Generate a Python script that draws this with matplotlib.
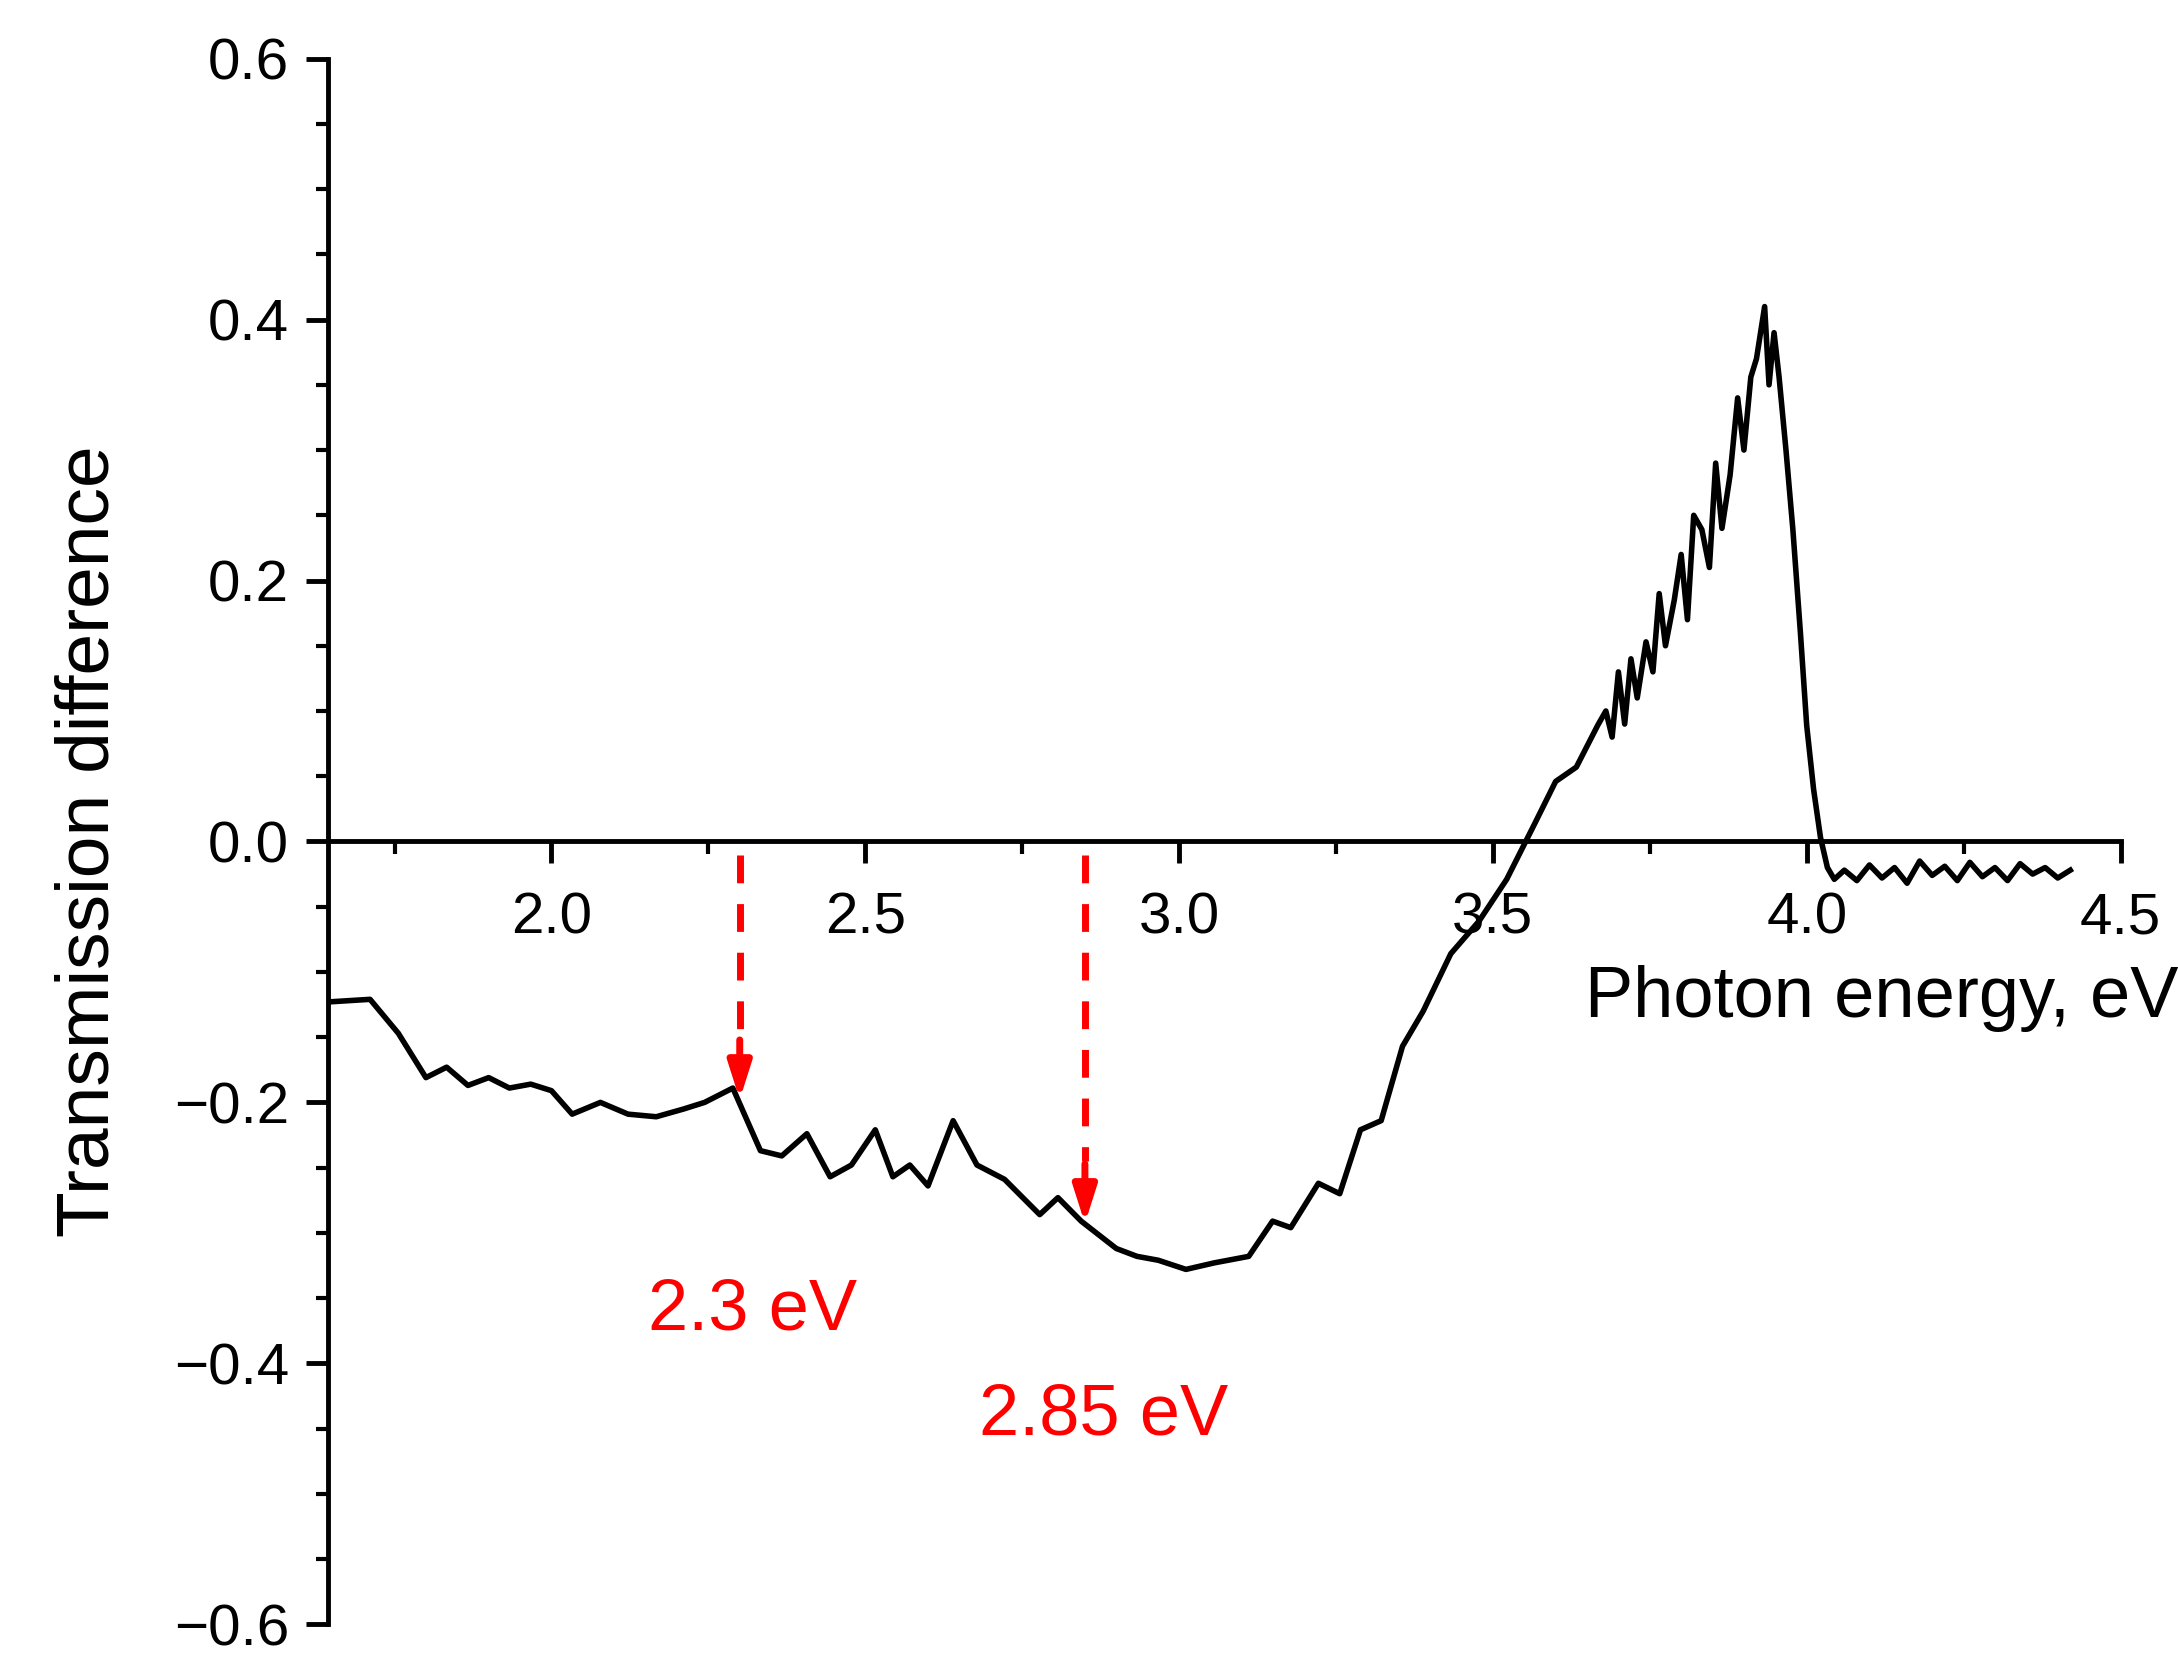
import matplotlib
matplotlib.use("Agg")
import matplotlib.pyplot as plt
from matplotlib.ticker import MultipleLocator

energy = [1.644,1.711,1.756,1.8,1.833,1.867,1.9,1.933,1.967,2.0,2.033,2.078,2.122,2.167,2.211,2.244,2.289,
          2.333,2.367,2.407,2.444,2.478,2.516,2.544,2.571,2.6,2.64,2.678,2.722,2.778,2.807,2.844,2.9,2.933,
          2.967,3.011,3.056,3.111,3.149,3.178,3.222,3.256,3.289,3.322,3.356,3.389,3.433,3.478,3.522,3.567,
          3.6,3.633,3.667,3.68,3.69,3.7,3.71,3.72,3.73,3.744,3.755,3.765,3.775,3.789,3.80,3.81,3.82,3.833,
          3.845,3.855,3.865,3.878,3.89,3.9,3.911,3.92,3.933,3.94,3.948,3.956,3.967,3.978,3.99,4.0,4.011,4.022,4.033,
          4.044,4.06,4.08,4.1,4.12,4.14,4.16,4.18,4.2,4.22,4.24,4.26,4.28,4.3,4.32,4.34,4.36,4.38,4.40,4.42]
transmission = [-0.123,-0.121,-0.147,-0.181,-0.173,-0.187,-0.181,-0.189,-0.186,-0.191,-0.209,-0.2,-0.209,-0.211,-0.205,-0.2,-0.189,
          -0.237,-0.241,-0.224,-0.257,-0.248,-0.221,-0.257,-0.248,-0.264,-0.214,-0.248,-0.259,-0.286,-0.273,-0.291,-0.312,-0.318,
          -0.321,-0.328,-0.323,-0.318,-0.291,-0.296,-0.262,-0.27,-0.221,-0.214,-0.157,-0.13,-0.086,-0.061,-0.029,0.014,
          0.046,0.057,0.089,0.10,0.08,0.13,0.09,0.14,0.11,0.153,0.13,0.19,0.15,0.185,0.22,0.17,0.25,0.239,
          0.21,0.29,0.24,0.281,0.34,0.30,0.356,0.37,0.41,0.35,0.39,0.356,0.30,0.239,0.16,0.089,0.04,0.003,-0.02,
          -0.029,-0.022,-0.03,-0.018,-0.028,-0.02,-0.032,-0.015,-0.026,-0.019,-0.03,-0.016,-0.027,-0.02,-0.03,-0.017,-0.025,-0.02,-0.028,-0.022]

arrow_x = [2.3, 2.85]
arrow_end = [-0.2, -0.295]
labels = ["2.3 eV", "2.85 eV"]
label_pos = [(2.32, -0.36), (2.88, -0.44)]

plt.rcParams['font.family'] = ['Liberation Sans', 'DejaVu Sans']
fig = plt.figure(figsize=(21.78, 16.62), dpi=100)
ax = fig.add_axes([0.1506, 0.0227, 0.823, 0.942])
ax.plot(energy, transmission, color='black', lw=4)
ax.set_xlim(1.644, 4.5)
ax.set_ylim(-0.6, 0.6)
ax.spines['bottom'].set_position(('data', 0))
ax.spines['top'].set_visible(False)
ax.spines['right'].set_visible(False)
for s in ax.spines.values():
    s.set_linewidth(3.5)
ax.xaxis.set_major_locator(MultipleLocator(0.5))
ax.xaxis.set_minor_locator(MultipleLocator(0.25))
ax.yaxis.set_major_locator(MultipleLocator(0.2))
ax.yaxis.set_minor_locator(MultipleLocator(0.05))
ax.tick_params(which='major', length=16, width=3.5, labelsize=42, pad=12)
ax.tick_params(which='minor', length=9, width=3)
ax.set_xticks([2.0, 2.5, 3.0, 3.5, 4.0, 4.5])
ax.set_xticklabels(['2.0', '2.5', '3.0', '3.5', '4.0', '4.5'])
ax.set_yticks([-0.6, -0.4, -0.2, 0.0, 0.2, 0.4, 0.6])
ax.set_yticklabels(['\u22120.6', '\u22120.4', '\u22120.2', '0.0', '0.2', '0.4', '0.6'])
ax.tick_params(axis='x', pad=20)
ax.set_ylabel('Transmission difference', fontsize=54, labelpad=36)
ax.text(4.12, -0.12, 'Photon energy, eV', fontsize=52, ha='center', va='center')

for x0, y1 in zip(arrow_x, arrow_end):
    ax.plot([x0, x0], [-0.01, y1 + 0.05], color='red', lw=5, ls=(0, (4, 3)))
    ax.annotate('', xy=(x0, y1), xytext=(x0, y1 + 0.05),
                arrowprops=dict(arrowstyle='-|>,head_width=0.7,head_length=2.2', color='red', lw=5))
for t, (x, y) in zip(labels, label_pos):
    ax.text(x, y, t, color='red', fontsize=52, ha='center', va='center')

fig.savefig('out.png', dpi=100)
